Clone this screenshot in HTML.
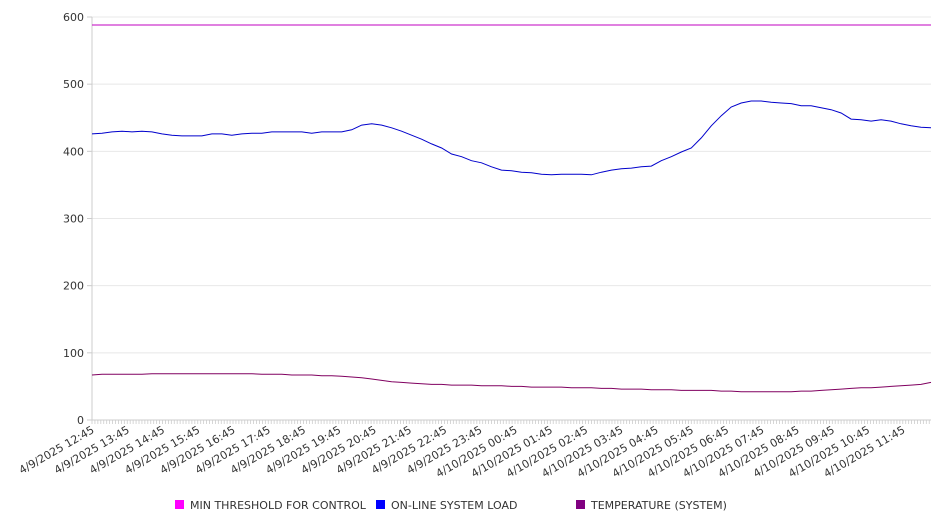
<!DOCTYPE html>
<html><head><meta charset="utf-8"><style>
body{margin:0;background:#fff;width:946px;height:526px;overflow:hidden;font-family:"DejaVu Sans","Liberation Sans",sans-serif;}
svg text{font-family:"DejaVu Sans","Liberation Sans",sans-serif;font-size:11px;fill:#333;}
</style></head><body>
<svg id="chart" width="946" height="526" xmlns="http://www.w3.org/2000/svg"></svg>
<script>
const yTicks=[0,100,200,300,400,500,600];
const xTickLabels=["4/9/2025 12:45","4/9/2025 13:45","4/9/2025 14:45","4/9/2025 15:45","4/9/2025 16:45","4/9/2025 17:45","4/9/2025 18:45","4/9/2025 19:45","4/9/2025 20:45","4/9/2025 21:45","4/9/2025 22:45","4/9/2025 23:45","4/10/2025 00:45","4/10/2025 01:45","4/10/2025 02:45","4/10/2025 03:45","4/10/2025 04:45","4/10/2025 05:45","4/10/2025 06:45","4/10/2025 07:45","4/10/2025 08:45","4/10/2025 09:45","4/10/2025 10:45","4/10/2025 11:45"];
const seriesNames=["MIN THRESHOLD FOR CONTROL","ON-LINE SYSTEM LOAD","TEMPERATURE (SYSTEM)"];
const thresholdValue=588;
const loadValues=[426,427,429,430,429,430,429,426,424,423,423,423,426,426,424,426,427,427,429,429,429,429,427,429,429,429,432,439,441,439,435,430,424,418,411,405,396,392,386,383,377,372,371,369,368,366,365,366,366,366,365,369,372,374,375,377,378,386,392,399,405,420,438,453,466,472,475,475,473,472,471,468,468,465,462,457,448,447,445,447,445,441,438,436,435];
const tempValues=[67,68,68,68,68,68,69,69,69,69,69,69,69,69,69,69,69,68,68,68,67,67,67,66,66,65,64,63,61,59,57,56,55,54,53,53,52,52,52,51,51,51,50,50,49,49,49,49,48,48,48,47,47,46,46,46,45,45,45,44,44,44,44,43,43,42,42,42,42,42,42,43,43,44,45,46,47,48,48,49,50,51,52,53,56];
const stepMinutes=17;

const svg=document.getElementById('chart');
const NS='http://www.w3.org/2000/svg';
const X0=92,X1=931,Y0=420,Y1=17,TOTAL=1428;
const xS=m=>X0+(m/TOTAL)*(X1-X0);
const yS=v=>Y0-(v/600)*(Y0-Y1);
function mk(t,a,p){const e=document.createElementNS(NS,t);for(const k in a)e.setAttribute(k,a[k]);(p||svg).appendChild(e);return e;}

yTicks.forEach(v=>{
  if(v>0){const g=mk('line',{x1:X0,x2:X1,y1:yS(v),y2:yS(v),stroke:'#e8e8e8'});
  
  }
  const t=mk('text',{x:84,y:yS(v)+4,'text-anchor':'end'});t.textContent=v;
  
  
  const tk=mk('line',{x1:87,x2:X0,y1:yS(v),y2:yS(v),stroke:'#ccc'});
  
  
});
const ax=mk('line',{x1:X0,x2:X0,y1:Y1,y2:Y0,stroke:'#ccc'});


const bx=mk('line',{x1:X0,x2:X1,y1:Y0,y2:Y0,stroke:'#ccc'});


for(let m=0;m<=TOTAL;m+=5){const l=mk('line',{x1:xS(m),x2:xS(m),y1:Y0,y2:Y0+4,stroke:'#ccc','stroke-width':0.8});
  
  }
xTickLabels.forEach((s,i)=>{const x=xS(i*60);
  const t=mk('text',{x:x+3,y:Y0+12,'text-anchor':'end',transform:`rotate(-30 ${x+3} ${Y0+12})`});t.textContent=s;
  
  });

const th=mk('line',{x1:X0,x2:X1,y1:yS(thresholdValue),y2:yS(thresholdValue),stroke:'#c000c0','stroke-width':1});


function path(vals,color,name){const d=vals.map((v,i)=>(i?'L':'M')+xS(Math.min(i*stepMinutes,TOTAL)).toFixed(1)+','+yS(v).toFixed(1)).join('');
  const p=mk('path',{d,fill:'none',stroke:color,'stroke-width':1});
  
  }
path(loadValues,'#0000cc','load-line');
path(tempValues,'#800060','temperature-line');

const legX=[175,376,576],legC=['#ff00ff','#0000ff','#800080'];
seriesNames.forEach((n,i)=>{const g=mk('g',{});
  
  
  mk('rect',{x:legX[i],y:500,width:9,height:9,fill:legC[i]},g);
  const t=mk('text',{x:legX[i]+15,y:509},g);t.textContent=n;});
</script>
</body></html>
